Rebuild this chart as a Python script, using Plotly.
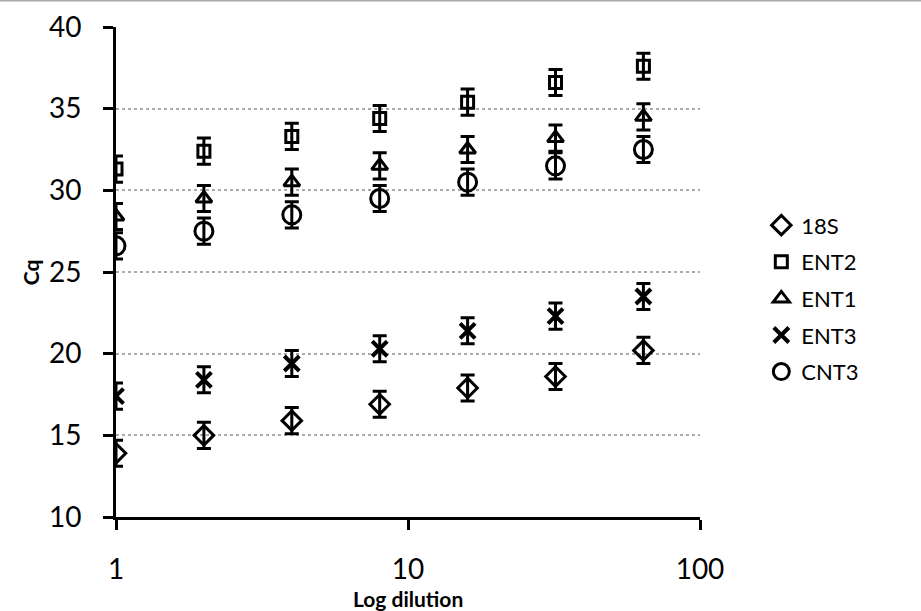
import plotly.graph_objects as go

dilution = [1, 2, 4, 8, 16, 32, 64]
cq_18s = [13.9, 15.0, 15.9, 16.9, 17.9, 18.6, 20.2]
cq_ent2 = [31.3, 32.4, 33.3, 34.4, 35.4, 36.6, 37.6]
cq_ent1 = [28.4, 29.5, 30.5, 31.5, 32.5, 33.2, 34.5]
cq_ent3 = [17.4, 18.4, 19.4, 20.3, 21.4, 22.3, 23.5]
cq_cnt3 = [26.6, 27.5, 28.5, 29.5, 30.5, 31.5, 32.5]
err = 0.8

series = [
    ("18S", cq_18s, "diamond-open", 15, 3),
    ("ENT2", cq_ent2, "square-open", 12, 3),
    ("ENT1", cq_ent1, "triangle-up-open", 14, 3),
    ("ENT3", cq_ent3, "x-thin-open", 15, 4),
    ("CNT3", cq_cnt3, "circle-open", 18, 3),
]

fig = go.Figure()
for i, (name, vals, sym, sz, lw) in enumerate(series):
    fig.add_trace(go.Scatter(
        x=dilution, y=vals, name=name, mode="markers",
        legendgroup=name,
        marker=dict(symbol=sym, size=sz, color="black",
                    line=dict(color="black", width=lw)),
        error_y=dict(type="constant", value=err, color="black",
                     thickness=3, width=7),
    ))

FONT = "Lato, Liberation Sans, sans-serif"
fig.update_layout(
    width=921, height=611,
    margin=dict(l=116, r=221, t=27, b=94),
    plot_bgcolor="white", paper_bgcolor="white",
    font=dict(family=FONT, color="black"),
    showlegend=True,
    legend=dict(x=1.105, y=0.638, xanchor="left", yanchor="top",
                font=dict(size=22, family=FONT), tracegroupgap=5,
                bgcolor="rgba(0,0,0,0)", itemwidth=30),
    xaxis=dict(type="log", range=[0, 2], tickvals=[1, 10, 100],
               ticktext=["1", "10", "100"], automargin=False,
               showline=True, linecolor="black", linewidth=3,
               ticks="outside", ticklen=10, tickwidth=3, tickcolor="black",
               showgrid=False, zeroline=False,
               tickfont=dict(size=28), ticklabelstandoff=15),
    yaxis=dict(range=[10, 40], tickvals=[10, 15, 20, 25, 30, 35, 40],
               automargin=False,
               showline=True, linecolor="black", linewidth=3,
               ticks="outside", ticklen=10, tickwidth=3, tickcolor="black",
               showgrid=True, gridcolor="#aaaaaa", gridwidth=2, griddash="dot",
               zeroline=False,
               tickfont=dict(size=28), ticklabelstandoff=16),
)

fig.add_annotation(text="<b>Log dilution</b>", xref="paper", yref="paper",
                   x=0.5, y=-0.167, xanchor="center", yanchor="middle",
                   showarrow=False, font=dict(size=21, family=FONT))
fig.add_annotation(text="<b>Cq</b>", xref="paper", yref="paper",
                   x=-0.147, y=0.5, xanchor="center", yanchor="middle",
                   textangle=-90, showarrow=False,
                   font=dict(size=21, family=FONT))

fig.add_shape(type="line", xref="paper", yref="paper",
              x0=-0.3, x1=1.5, y0=1.054, y1=1.054,
              line=dict(color="#aaaaaa", width=2))

fig.write_html("out.html", config={"displayModeBar": False},
               post_script="document.body.style.margin='0px';document.body.style.overflow='hidden';")
